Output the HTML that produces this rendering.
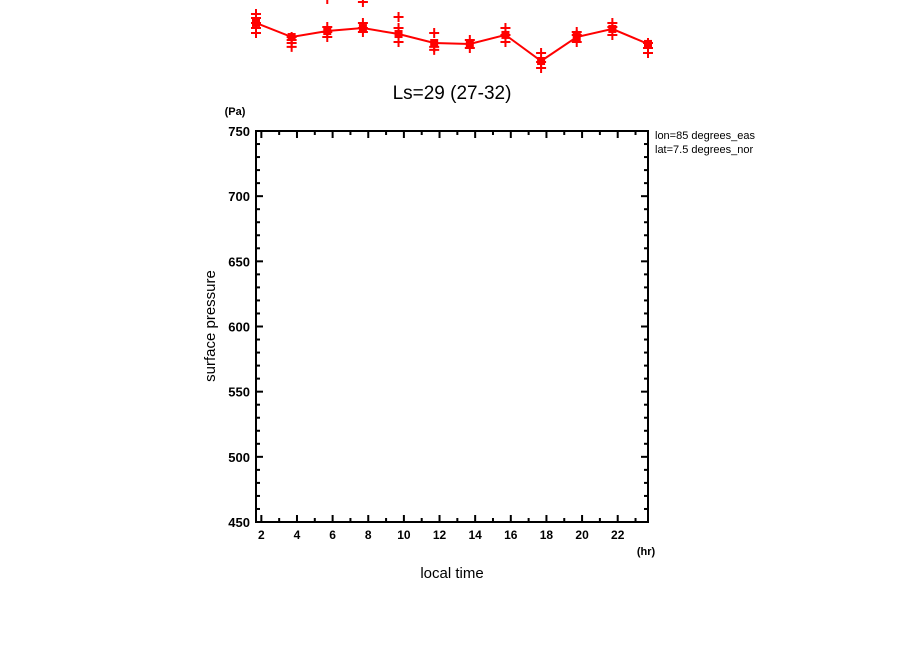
<!DOCTYPE html>
<html><head><meta charset="utf-8"><style>
body{margin:0;background:#fff;}
svg{display:block;font-family:"Liberation Sans",sans-serif;}
</style></head><body>
<svg id="chart" width="904" height="654" viewBox="0 0 904 654" xmlns="http://www.w3.org/2000/svg">
<text x="452" y="99" text-anchor="middle" font-size="19">Ls=29 (27-32)</text>
<text x="235" y="115" text-anchor="middle" font-size="11" font-weight="bold">(Pa)</text>
<text x="646" y="555" text-anchor="middle" font-size="11" font-weight="bold">(hr)</text>
<text x="452" y="578" text-anchor="middle" font-size="15">local time</text>
<text x="215" y="326" text-anchor="middle" font-size="15" transform="rotate(-90 215 326)">surface pressure</text>
<text x="655" y="139" font-size="11">lon=85 degrees_eas</text>
<text x="655" y="153" font-size="11">lat=7.5 degrees_nor</text>
<g id="axes"></g>
<g id="series"></g>
</svg>
<script>
const hours = [1.7,3.7,5.7,7.7,9.7,11.7,13.7,15.7,17.7,19.7,21.7,23.7];
const meanValues = [832.9,822.1,826.7,829.0,824.4,817.5,816.8,823.7,803.7,822.1,828.3,816.8];
const sampleValues = [
 [839.8,836.7,832.9,829.0,825.2],
 [819.8,817.5,814.5,822.1],
 [851.3,829.8,826.0,822.1],
 [849.0,832.9,829.0,826.0],
 [837.5,829.0,818.3],
 [825.2,814.5,812.2],
 [819.8,813.7],
 [829.0,823.7,818.3],
 [809.8,802.9,798.3],
 [826.0,823.7,818.3],
 [832.9,829.8,823.7],
 [817.5,813.7,809.8]
];
const xTickLabels = [2,4,6,8,10,12,14,16,18,20,22];
const yTickLabels = [450,500,550,600,650,700,750];

const X0=256,X1=648,Y0=131,Y1=522;
const xmin=1.7,xmax=23.7,ymin=450,ymax=750;
const sx=v=>X0+(v-xmin)/(xmax-xmin)*(X1-X0);
const sy=v=>Y1-(v-ymin)/(ymax-ymin)*(Y1-Y0);
const NS="http://www.w3.org/2000/svg";
function mk(tag,attrs,parent){const e=document.createElementNS(NS,tag);for(const k in attrs)e.setAttribute(k,attrs[k]);parent.appendChild(e);return e;}
const axes=document.getElementById('axes');
const series=document.getElementById('series');

const frame=mk('rect',{x:X0,y:Y0,width:X1-X0,height:Y1-Y0,fill:'none',stroke:'#000','stroke-width':2},axes);



for(let h=1;h<=23;h++){
  if(h<xmin||h>xmax)continue;
  const major=h%2===0,len=major?7:4,x=sx(h);
  const t1=mk('line',{x1:x,x2:x,y1:Y1,y2:Y1-len,stroke:'#000','stroke-width':2},axes);
  
  
  const t2=mk('line',{x1:x,x2:x,y1:Y0,y2:Y0+len,stroke:'#000','stroke-width':2},axes);
  
  
}
xTickLabels.forEach(v=>{
  const t=mk('text',{x:sx(v),y:Y1+17,'text-anchor':'middle','font-size':12,'font-weight':'bold'},axes);
  t.textContent=v;
  
  
});
for(let v=ymin;v<=ymax;v+=10){
  const major=v%50===0,len=major?7:4,y=sy(v);
  const t1=mk('line',{x1:X0,x2:X0+len,y1:y,y2:y,stroke:'#000','stroke-width':2},axes);
  
  
  const t2=mk('line',{x1:X1,x2:X1-len,y1:y,y2:y,stroke:'#000','stroke-width':2},axes);
  
  
}
yTickLabels.forEach(v=>{
  const t=mk('text',{x:X0-6,y:sy(v)+5,'text-anchor':'end','font-size':13,'font-weight':'bold'},axes);
  t.textContent=v;
  
  
});

const pts=hours.map((h,i)=>sx(h)+','+sy(meanValues[i])).join(' ');
const line=mk('polyline',{points:pts,fill:'none',stroke:'#ff0000','stroke-width':2},series);


sampleValues.forEach((arr,i)=>{
  arr.forEach(v=>{
    const x=sx(hours[i]),y=sy(v);
    const p=mk('path',{d:`M${x-5},${y}H${x+5}M${x},${y-5}V${y+5}`,stroke:'#ff0000','stroke-width':2},series);
    
    
  });
});
hours.forEach((h,i)=>{
  const r=mk('rect',{x:sx(h)-4,y:sy(meanValues[i])-4,width:8,height:8,fill:'#ff0000'},series);
  
  
});
</script>
</body></html>
